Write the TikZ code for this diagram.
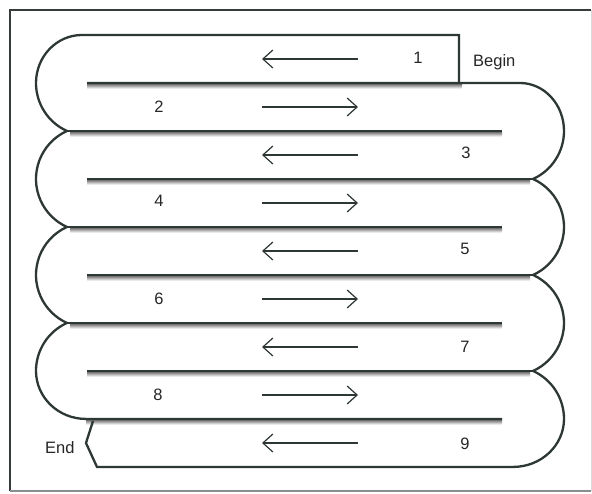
\documentclass[tikz,border=0pt]{standalone}
\usepackage{fontspec}
\setmainfont{Liberation Sans}
\usetikzlibrary{arrows.meta}
\definecolor{wall}{RGB}{45,55,52}
\definecolor{shade}{RGB}{196,196,196}
\definecolor{frameg}{RGB}{55,60,58}
\begin{document}
\begin{tikzpicture}[x=1pt,y=1pt,
  wallline/.style={draw=wall,line width=2.3pt,line join=miter},
  divline/.style={draw=wall,line width=2.7pt},
  lanearrow/.style={draw=wall,line width=1.2pt,-{Straight Barb[length=10pt,width=18pt]}},
  lbl/.style={font=\fontsize{16.5}{19}\selectfont,inner sep=0pt,text=black!85}]
\useasboundingbox (0,0) rectangle (592,493);
\fill[white] (0,0) rectangle (592,493);
% frame
\draw[line width=1.8pt, frameg] (10,2) -- (10,483) -- (591,483);
\draw[line width=1.4pt, black!45] (10,2) -- (591,2);
\draw[line width=1pt, black!15] (591,2) -- (591,483);
% gray shadows under the dividers
\fill[shade] (87,404.3) rectangle (462,408.6);
\foreach \y in {362,266,170}{\fill[shade] (70,\y-5.7) rectangle (502,\y-1.4);}
\foreach \y in {314,218,122}{\fill[shade] (87,\y-5.7) rectangle (530,\y-1.4);}
\fill[shade] (86,68.3) rectangle (502,72.6);
% left / top wall
\draw[wallline] (459,410) -- (459,458) -- (82,458)
  arc[start angle=90,end angle=180,x radius=46,y radius=48]
  arc[start angle=180,end angle=245.6,radius=52.7]
  arc[start angle=114.4,end angle=245.6,radius=52.7]
  arc[start angle=114.4,end angle=245.6,radius=52.7]
  arc[start angle=114.4,end angle=180,radius=52.7]
  arc[start angle=180,end angle=270,x radius=50,y radius=48]
  -- (502,74);
\foreach \y in {362,266,170}{\draw[divline] (66.9,\y) -- (502,\y);}
% right / bottom wall
\draw[wallline] (87,410) -- (520,410)
  arc[start angle=90,end angle=0,x radius=44,y radius=48]
  arc[start angle=0,end angle=-65.6,radius=52.7]
  arc[start angle=65.6,end angle=-65.6,radius=52.7]
  arc[start angle=65.6,end angle=-65.6,radius=52.7]
  arc[start angle=65.6,end angle=0,radius=52.7]
  arc[start angle=0,end angle=-90,x radius=51,y radius=48]
  -- (97,26) -- (86,50) -- (93,72);
\foreach \y in {314,218,122}{\draw[divline] (87,\y) -- (533.1,\y);}
% arrows
\foreach \k in {1,...,9}{
  \pgfmathsetmacro\Y{434-48*(\k-1)}
  \coordinate (p\k) at (262,\Y);
  \coordinate (q\k) at (358,\Y);
  \ifodd\k
    \draw[lanearrow] (q\k) -- (p\k);
  \else
    \draw[lanearrow] (p\k) -- (q\k);
  \fi
}
% labels
\node[lbl] (n1) at (418,435) {1};
\node[lbl] (n2) at (159,386) {2};
\node[lbl] (n3) at (466,340) {3};
\node[lbl] (n4) at (159,292) {4};
\node[lbl] (n5) at (465,244) {5};
\node[lbl] (n6) at (159,194) {6};
\node[lbl] (n7) at (465,146) {7};
\node[lbl] (n8) at (158,98) {8};
\node[lbl] (n9) at (465,49) {9};
\node[lbl,anchor=base west] (begin) at (473,426) {Begin};
\node[lbl,anchor=base west] (end) at (45,40) {End};
\end{tikzpicture}
\end{document}
